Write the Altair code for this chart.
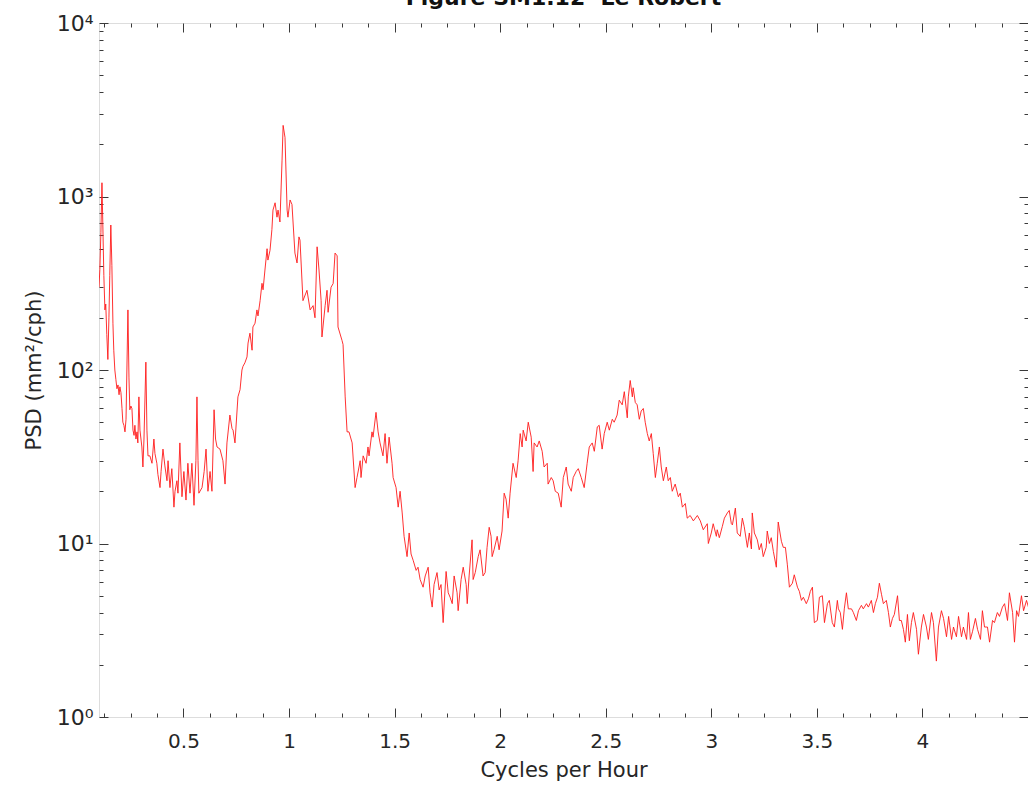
import altair as alt
import pandas as pd

# (cycles per hour, PSD mm^2/cph)
seg_low = [
    (0.100, 300), (0.104, 380), (0.109, 620), (0.114, 1200), (0.118, 700), (0.123, 350),
    (0.128, 222), (0.132, 240), (0.137, 160), (0.142, 115), (0.147, 200), (0.151, 350),
    (0.156, 685), (0.161, 400), (0.166, 186), (0.170, 130), (0.175, 100), (0.180, 88),
    (0.185, 78), (0.190, 82), (0.195, 72), (0.199, 80), (0.204, 74), (0.209, 60),
    (0.213, 50), (0.218, 48), (0.223, 44), (0.228, 52), (0.237, 222), (0.242, 90),
    (0.246, 59), (0.251, 62), (0.256, 60), (0.261, 45), (0.266, 42), (0.270, 48),
    (0.275, 40), (0.280, 44), (0.284, 38), (0.289, 70), (0.294, 45), (0.303, 36),
    (0.308, 27.6), (0.313, 40), (0.322, 111), (0.327, 45), (0.332, 32), (0.341, 32),
    (0.351, 29), (0.360, 40), (0.365, 33), (0.374, 29), (0.379, 25), (0.389, 21),
    (0.394, 26), (0.403, 35), (0.412, 28), (0.422, 23), (0.427, 30), (0.436, 21),
    (0.445, 27), (0.455, 16.2), (0.460, 20), (0.469, 23), (0.474, 19.5), (0.483, 38),
    (0.493, 18.6), (0.502, 26), (0.512, 17.8), (0.521, 29), (0.531, 19.5), (0.540, 29),
    (0.550, 16.6), (0.559, 30), (0.564, 70), (0.569, 30), (0.573, 19.5), (0.588, 21),
    (0.598, 26), (0.607, 35), (0.616, 20), (0.626, 26), (0.635, 20), (0.645, 59),
    (0.652, 40), (0.659, 36), (0.673, 35), (0.687, 30), (0.697, 22), (0.706, 38),
    (0.720, 55), (0.730, 46), (0.735, 45), (0.744, 38), (0.758, 70), (0.768, 77),
]
seg_peak1 = [
    (0.777, 100), (0.782, 105), (0.791, 110), (0.801, 119), (0.806, 143), (0.815, 163),
    (0.825, 130), (0.829, 177), (0.839, 186), (0.848, 222), (0.853, 205), (0.863, 251),
    (0.872, 316), (0.877, 290), (0.886, 377), (0.896, 500), (0.900, 430), (0.910, 490),
    (0.919, 646), (0.924, 835), (0.934, 920), (0.943, 760), (0.948, 835), (0.957, 713),
    (0.967, 1620), (0.972, 2570), (0.981, 2190), (0.991, 835), (0.995, 760), (1.005, 955),
    (1.014, 900), (1.028, 472), (1.038, 414), (1.047, 585), (1.052, 560), (1.066, 251),
    (1.085, 288), (1.100, 222), (1.114, 235), (1.123, 200), (1.133, 513), (1.142, 377),
    (1.152, 251), (1.156, 155), (1.171, 235), (1.180, 288), (1.185, 215), (1.199, 300),
    (1.209, 315), (1.218, 472), (1.228, 455), (1.232, 177), (1.251, 148), (1.256, 140),
    (1.266, 70), (1.275, 44), (1.284, 44), (1.299, 38), (1.313, 21), (1.322, 24),
    (1.337, 30), (1.341, 24), (1.351, 32), (1.365, 29), (1.374, 36), (1.379, 32),
    (1.393, 44), (1.398, 41), (1.412, 57), (1.422, 44), (1.431, 38), (1.445, 32),
    (1.455, 43), (1.464, 29), (1.474, 41), (1.488, 29), (1.493, 24), (1.507, 21),
    (1.517, 16.2), (1.526, 20), (1.536, 15), (1.545, 11),
]
seg_trough = [
    (1.559, 8.4), (1.569, 11.5), (1.578, 8.7), (1.588, 8.0), (1.602, 7.0), (1.611, 7.3),
    (1.621, 6.2), (1.635, 5.6), (1.645, 6.5), (1.659, 7.3), (1.668, 5.2), (1.678, 4.3),
    (1.687, 5.8), (1.701, 6.8), (1.711, 5.4), (1.720, 5.8), (1.730, 3.5), (1.744, 6.9),
    (1.754, 5.2), (1.763, 4.9), (1.773, 4.5), (1.782, 6.5), (1.796, 5.2), (1.801, 4.1),
    (1.815, 6.2), (1.825, 7.3), (1.839, 5.8), (1.844, 4.5), (1.853, 6.5), (1.867, 10.5),
    (1.872, 6.2), (1.882, 6.8), (1.896, 8.4), (1.905, 9.2), (1.919, 6.5), (1.929, 6.8),
    (1.938, 9.5), (1.948, 12.4), (1.957, 11), (1.962, 8.4), (1.971, 9.2), (1.986, 11),
    (1.995, 9.2), (2.009, 11.8),
]
seg_peak2 = [
    (2.019, 19.5), (2.028, 18), (2.038, 14), (2.047, 19.5), (2.061, 29), (2.076, 24),
    (2.085, 30), (2.095, 43), (2.104, 36), (2.109, 45), (2.123, 39), (2.133, 50),
    (2.147, 41), (2.156, 26), (2.161, 38), (2.175, 36), (2.185, 39), (2.199, 34),
    (2.208, 27.6), (2.223, 29), (2.227, 22), (2.242, 24), (2.251, 23), (2.261, 20),
    (2.275, 19.5), (2.289, 16.2), (2.299, 24), (2.313, 27.6), (2.322, 22), (2.337, 20),
    (2.346, 24), (2.360, 26), (2.370, 27), (2.384, 24), (2.398, 21), (2.412, 29),
    (2.422, 36), (2.436, 38), (2.446, 34), (2.460, 47), (2.469, 48), (2.483, 35),
    (2.493, 43), (2.507, 50), (2.517, 45), (2.531, 52), (2.540, 50), (2.554, 55),
    (2.564, 67), (2.578, 63), (2.588, 75), (2.602, 53), (2.607, 70), (2.616, 87),
    (2.626, 70), (2.630, 79), (2.640, 65), (2.649, 63), (2.659, 52), (2.668, 58),
    (2.678, 60), (2.687, 50), (2.697, 43), (2.706, 39), (2.716, 43), (2.725, 33),
    (2.735, 24), (2.744, 29), (2.754, 36), (2.763, 27.6), (2.773, 23), (2.787, 27.6),
    (2.796, 23), (2.806, 24), (2.815, 20), (2.829, 22), (2.844, 18.6), (2.853, 19.5),
    (2.863, 16.2), (2.877, 17), (2.886, 14), (2.900, 14.5), (2.915, 13.5), (2.934, 14.5),
    (2.948, 13.5),
]
seg_shoulder = [
    (2.962, 12), (2.981, 13), (2.986, 10), (3.000, 11.5), (3.009, 13), (3.024, 11),
    (3.028, 12), (3.038, 10.8), (3.052, 12.5), (3.062, 14), (3.076, 15), (3.085, 15.5),
    (3.095, 13), (3.100, 12.8), (3.114, 16), (3.123, 11.5), (3.137, 11), (3.147, 14),
    (3.156, 12.5), (3.171, 9.5), (3.180, 11.5), (3.190, 9.3), (3.194, 15), (3.204, 11.5),
    (3.218, 10.5), (3.227, 9.2), (3.237, 10), (3.246, 8.4), (3.260, 9.5), (3.265, 11.8),
    (3.275, 10), (3.284, 10.8), (3.294, 9), (3.308, 7.3), (3.317, 13.3), (3.332, 10.3),
    (3.341, 9.5), (3.351, 9.5), (3.360, 7.6), (3.370, 5.6), (3.384, 5.9), (3.393, 6.6),
    (3.408, 5.6), (3.417, 5.3), (3.427, 4.7), (3.436, 4.9), (3.450, 4.5), (3.460, 4.8),
    (3.469, 5.3), (3.479, 5.6),
]
seg_tail = [
    (3.488, 3.5), (3.502, 3.6), (3.512, 4.9), (3.526, 5.0), (3.536, 3.5), (3.550, 4.5),
    (3.559, 4.7), (3.573, 3.5), (3.583, 3.3), (3.597, 4.7), (3.602, 4.2), (3.611, 4.0),
    (3.621, 3.2), (3.630, 4.2), (3.640, 5.2), (3.649, 4.2), (3.664, 4.2), (3.673, 4.0),
    (3.687, 3.6), (3.697, 4.1), (3.711, 4.4), (3.720, 4.2), (3.735, 4.5), (3.744, 4.3),
    (3.758, 4.7), (3.768, 4.0), (3.777, 4.5), (3.787, 4.9), (3.796, 5.9), (3.806, 5.1),
    (3.815, 4.5), (3.829, 4.7), (3.839, 4.0), (3.848, 3.3), (3.858, 3.7), (3.867, 3.9),
    (3.882, 5.0), (3.891, 3.6), (3.900, 3.6), (3.910, 3.2), (3.919, 2.7), (3.929, 3.9),
    (3.938, 2.75), (3.948, 3.5), (3.957, 4.0), (3.972, 3.2), (3.981, 2.3), (3.995, 3.3),
    (4.005, 3.9), (4.019, 3.3), (4.028, 2.8), (4.043, 4.0), (4.052, 3.5), (4.066, 2.1),
    (4.076, 3.3), (4.090, 4.1), (4.100, 3.7), (4.114, 2.9), (4.124, 3.8), (4.138, 2.8),
    (4.147, 3.3), (4.161, 2.9), (4.171, 3.8), (4.185, 2.9), (4.194, 3.3), (4.209, 2.8),
    (4.218, 4.0), (4.227, 2.8), (4.237, 3.1), (4.251, 3.7), (4.261, 3.2), (4.275, 2.8),
    (4.284, 4.1), (4.294, 3.3), (4.308, 3.3), (4.318, 2.7), (4.332, 3.6), (4.341, 3.5),
    (4.355, 4.0), (4.365, 3.8), (4.379, 4.3), (4.389, 4.5), (4.403, 3.6), (4.412, 5.2),
    (4.427, 4.0), (4.436, 2.7), (4.446, 4.1), (4.455, 3.8), (4.469, 5.0), (4.479, 4.1),
    (4.493, 4.7), (4.502, 4.3),
]

x_major = [0.5, 1, 1.5, 2, 2.5, 3, 3.5, 4]
x_ticks = [k * 0.125 for k in range(1, 37)]
y_major = [1, 10, 100, 1000, 10000]
y_ticks = [m * 10 ** e for e in range(0, 4) for m in range(1, 10)] + [10000]

rows = seg_low + seg_peak1 + seg_trough + seg_peak2 + seg_shoulder + seg_tail
df = pd.DataFrame(rows, columns=["cph", "psd"])

W, H = 929, 694
FONT = "DejaVu Sans"
AX = "#3a3a3a"

xscale = alt.Scale(domain=[0.1, 4.5], nice=False, zero=False)
yscale = alt.Scale(type="log", domain=[1, 10000], nice=False)

xmaj_test = "abs(datum.value*2 - round(datum.value*2)) < 0.001"
ymaj_test = "abs(log(datum.value)/LN10 - round(log(datum.value)/LN10)) < 0.001"
xtick = {"condition": {"test": xmaj_test, "value": 9}, "value": 4}
ytick = {"condition": {"test": ymaj_test, "value": 9}, "value": 4}

main = alt.Chart(df).mark_line(color="#ff1a1a", strokeWidth=0.9, clip=True).encode(
    x=alt.X("cph:Q", scale=xscale, axis=alt.Axis(
        orient="bottom", values=x_major, format="~g", ticks=False, tickSize=0,
        domain=False, grid=False, labelFontSize=20, labelFont=FONT, labelColor="#262626",
        labelPadding=14, title="Cycles per Hour", titleFontSize=21, titleFont=FONT,
        titleFontWeight="normal", titleColor="#262626", titlePadding=8)),
    y=alt.Y("psd:Q", scale=yscale, axis=alt.Axis(
        orient="left", values=y_major, ticks=False, tickSize=0, domain=False, grid=False,
        labelExpr="'10' + (datum.value == 1 ? '⁰' : datum.value == 10 ? '¹' : datum.value == 100 ? '²' : datum.value == 1000 ? '³' : '⁴')",
        labelFontSize=22, labelFont=FONT, labelColor="#262626", labelPadding=6,
        title="PSD (mm²/cph)", titleFontSize=21, titleFont=FONT, titleFontWeight="normal",
        titleColor="#262626", titlePadding=12)),
)

def tick_layer(xaxis, yaxis):
    return alt.Chart(df).mark_line(opacity=0).encode(
        x=alt.X("cph:Q", scale=xscale, axis=xaxis),
        y=alt.Y("psd:Q", scale=yscale, axis=yaxis),
    )

common = dict(labels=False, domain=False, grid=False, title=None, tickColor=AX, tickWidth=1)
bottom_in = tick_layer(alt.Axis(orient="top", offset=-H, values=x_ticks, tickSize=xtick, **common), None)
top_in = tick_layer(alt.Axis(orient="bottom", offset=-H, values=x_ticks, tickSize=xtick, **common), None)
left_in = tick_layer(None, alt.Axis(orient="right", offset=-W, values=y_ticks, tickSize=ytick, **common))
right_in = tick_layer(None, alt.Axis(orient="left", offset=-W, values=y_ticks, tickSize=ytick, **common))

chart = alt.layer(main, bottom_in, top_in, left_in, right_in).resolve_axis(
    x="independent", y="independent"
).properties(
    width=W, height=H,
    title=alt.TitleParams("Figure SM1.12\u00a0\u00a0Le Robert", fontSize=22, fontWeight="bold",
                          font=FONT, color="#111111", anchor="middle", baseline="alphabetic",
                          offset=0, dy=15),
    autosize=alt.AutoSizeParams(type="none"),
    padding={"left": 99, "top": 23, "right": 0, "bottom": 71},
).configure_view(stroke=AX, strokeWidth=1).configure(background="white")

chart.save("out.html", embed_options={"renderer": "svg", "actions": False})
